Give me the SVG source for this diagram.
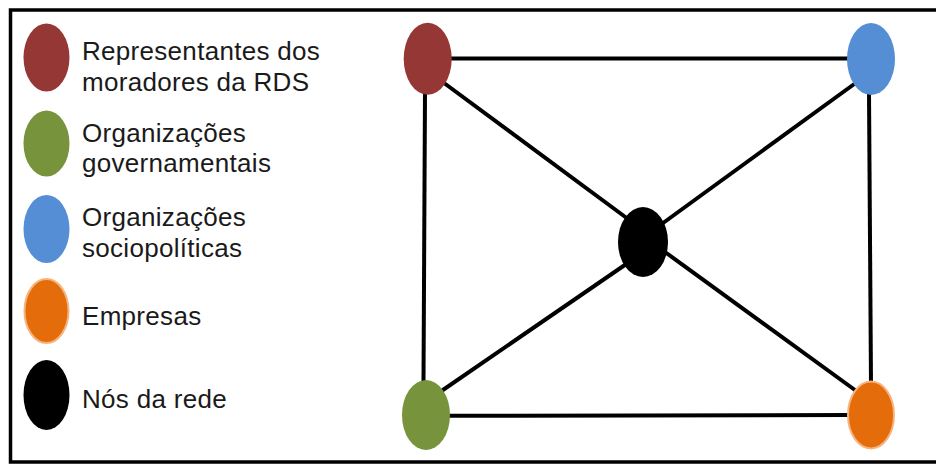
<svg xmlns="http://www.w3.org/2000/svg" width="936" height="465" viewBox="0 0 936 465">
<style>
.lbl{font-family:"Liberation Sans",Arial,sans-serif;font-size:26px;letter-spacing:0.3px;fill:#1a1a1a}
.edge{stroke:#000;stroke-width:4;stroke-linecap:butt;fill:none}
.red{fill:#953735}
.green{fill:#77933C}
.blue{fill:#558ED5}
.orange{fill:#E46C0A;stroke:#F6B57F;stroke-width:2}
.black{fill:#000}
</style>
<rect x="0" y="0" width="936" height="465" fill="#fff"/>
<rect id="frame" x="10.5" y="10" width="940" height="452" fill="none" stroke="#000" stroke-width="3.5"/>
<g id="legend">
  <g id="legend-red"><ellipse class="red" cx="46.5" cy="57.5" rx="23" ry="34"/><text class="lbl" x="82" y="60">Representantes dos</text><text class="lbl" x="82" y="90.5">moradores da RDS</text></g>
  <g id="legend-green"><ellipse class="green" cx="46.5" cy="143.5" rx="23" ry="33"/><text class="lbl" x="82" y="141.5">Organizações</text><text class="lbl" x="82" y="171.5">governamentais</text></g>
  <g id="legend-blue"><ellipse class="blue" cx="46.5" cy="229" rx="23" ry="34"/><text class="lbl" x="82" y="226">Organizações</text><text class="lbl" x="82" y="256.5">sociopolíticas</text></g>
  <g id="legend-orange"><ellipse class="orange" cx="46.5" cy="311" rx="22" ry="32"/><text class="lbl" x="82" y="325">Empresas</text></g>
  <g id="legend-black"><ellipse class="black" cx="46.5" cy="395" rx="23" ry="35"/><text class="lbl" x="82" y="408">Nós da rede</text></g>
</g>
<g id="connectors">
  <line class="edge" x1="450" y1="58.5" x2="849" y2="58.5"/>
  <line class="edge" x1="425" y1="92" x2="423.5" y2="382"/>
  <line class="edge" x1="869" y1="93" x2="871" y2="384"/>
  <line class="edge" x1="448" y1="415.8" x2="850" y2="415"/>
  <line class="edge" x1="442" y1="81.5" x2="628" y2="219"/>
  <line class="edge" x1="857" y1="82" x2="661" y2="224.5"/>
  <line class="edge" x1="627" y1="263.5" x2="440" y2="392"/>
  <line class="edge" x1="665" y1="252" x2="857" y2="391.5"/>
</g>
<g id="node-red"><ellipse class="red" cx="427.7" cy="58.7" rx="24" ry="36"/></g>
<g id="node-blue"><ellipse class="blue" cx="871" cy="59" rx="24" ry="36"/></g>
<g id="node-black"><ellipse class="black" cx="643" cy="242" rx="25" ry="35"/></g>
<g id="node-green"><ellipse class="green" cx="426" cy="415" rx="24" ry="35"/></g>
<g id="node-orange"><ellipse class="orange" cx="871" cy="415" rx="23" ry="33.5"/></g>
</svg>
